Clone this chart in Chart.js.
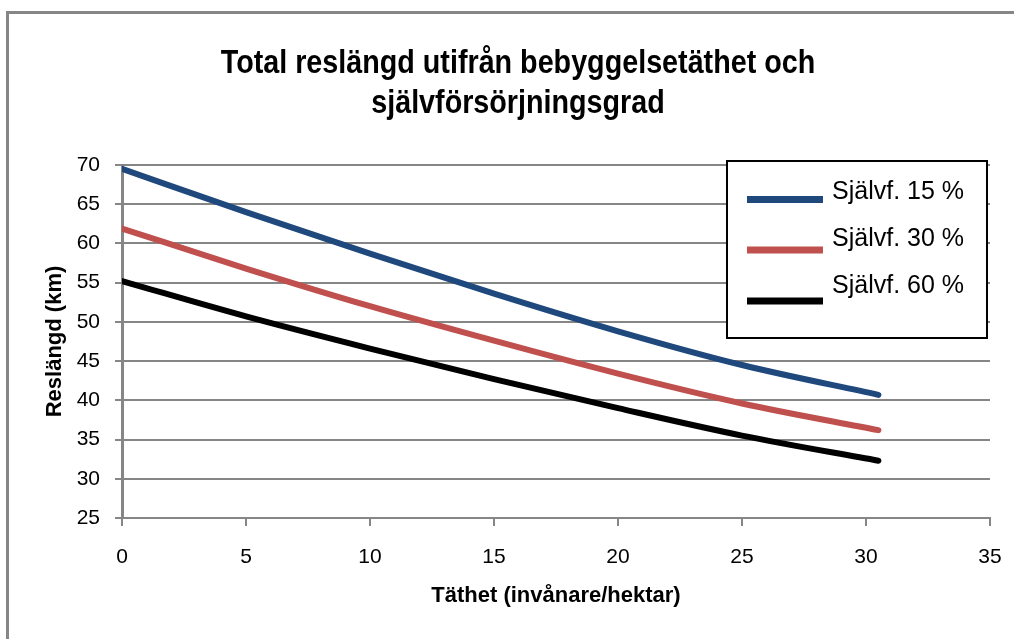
<!DOCTYPE html>
<html>
<head>
<meta charset="utf-8">
<script src="https://cdn.jsdelivr.net/npm/chart.js@4/dist/chart.umd.min.js"></script>
<style>
  html, body { margin: 0; padding: 0; background: #fff; }
  #wrap { position: relative; width: 1014px; height: 639px; overflow: hidden; }
  #frame { position: absolute; left: 6px; top: 11px; width: 1100px; height: 700px;
           border-left: 3px solid #868686; border-top: 3px solid #868686; }
  #myChart { position: absolute; left: 0; top: 0; }
</style>
</head>
<body>
<div id="wrap">
  <div id="frame"></div>
  <canvas id="myChart" width="1014" height="639"></canvas>
</div>
<script>
// values
const density = [0, 5, 10, 15, 20, 25, 30.5]
const self15 = [69.5, 64.0, 58.7, 53.6, 48.8, 44.5, 40.7]
const self30 = [61.9, 56.8, 52.0, 47.6, 43.4, 39.6, 36.2]
const self60 = [55.2, 50.7, 46.6, 42.7, 39.0, 35.5, 32.3]
const seriesNames = ['Självf. 15 %', 'Självf. 30 %', 'Självf. 60 %']
const titleLines = ['Total reslängd utifrån bebyggelsetäthet och', 'självförsörjningsgrad']
const xTitle = 'Täthet (invånare/hektar)'
const yTitle = 'Reslängd (km)'

const colors = ['#1F497D', '#C0504D', '#000000']

const toPoints = arr => arr.map((v, i) => ({ x: density[i], y: v }))

// title drawn a bit condensed, like the narrow font of the original
const titlePlugin = {
  id: 'bigTitle',
  afterDraw(chart) {
    const ctx = chart.ctx
    ctx.save()
    ctx.font = 'bold 33px "Liberation Sans"'
    ctx.fillStyle = '#000'
    ctx.textAlign = 'center'
    ctx.textBaseline = 'alphabetic'
    ctx.translate(518, 0)
    ctx.scale(0.87, 1)
    titleLines.forEach((t, i) => ctx.fillText(t, 0, 73 + i * 40))
    ctx.restore()
  }
}

// legend box like the original (text sits a bit above the line sample)
const boxLegend = {
  id: 'boxLegend',
  afterDraw(chart) {
    const ctx = chart.ctx
    ctx.save()
    ctx.fillStyle = '#fff'
    ctx.fillRect(727, 161, 260, 177)
    ctx.strokeStyle = '#000'
    ctx.lineWidth = 2
    ctx.strokeRect(727, 161, 260, 177)
    const lineY = [199.5, 250, 301]
    const textY = [199, 246, 293]
    ctx.font = '25px "Liberation Sans"'
    ctx.textAlign = 'left'
    ctx.textBaseline = 'alphabetic'
    chart.data.datasets.forEach((ds, i) => {
      ctx.strokeStyle = ds.borderColor
      ctx.lineWidth = 7
      ctx.lineCap = 'butt'
      ctx.beginPath()
      ctx.moveTo(747, lineY[i])
      ctx.lineTo(823, lineY[i])
      ctx.stroke()
      ctx.fillStyle = '#000'
      ctx.fillText(ds.label, 832, textY[i])
    })
    ctx.restore()
  }
}

const show = document.getElementById('myChart').getContext('2d')
const myChart = new Chart(show, {
  type: 'line',
  data: {
    datasets: [self15, self30, self60].map((arr, i) => ({
      label: seriesNames[i],
      data: toPoints(arr),
      borderColor: colors[i],
      backgroundColor: colors[i],
      borderWidth: 6,
      borderCapStyle: 'round',
      pointRadius: 0,
      tension: 0.3,
      cubicInterpolationMode: 'monotone',
      fill: false,
    }))
  },
  options: {
    responsive: false,
    animation: false,
    layout: { padding: { top: 165, right: 24, bottom: 0, left: 0 } },
    plugins: {
      legend: { display: false },
      title: { display: false },
      tooltip: { enabled: false },
    },
    scales: {
      x: {
        type: 'linear',
        min: 0,
        max: 35,
        ticks: { stepSize: 5, color: '#000', padding: 19, font: { family: 'Liberation Sans', size: 21 } },
        grid: { drawOnChartArea: false, drawTicks: true, tickLength: 8, color: '#868686', lineWidth: 2 },
        border: { color: '#868686', width: 2 },
        title: { display: true, text: xTitle, color: '#000', padding: { top: 0, bottom: 30 },
                 font: { family: 'Liberation Sans', size: 22, weight: 'bold' } },
        afterFit(scale) {
          scale.height = 121
          scale.paddingRight = 0
          scale.paddingLeft = 0
        },
      },
      y: {
        min: 25,
        max: 70,
        ticks: { stepSize: 5, color: '#000', padding: 15, font: { family: 'Liberation Sans', size: 21 } },
        grid: { color: '#868686', lineWidth: 2, tickLength: 7 },
        border: { color: '#868686', width: 3 },
        title: { display: true, text: yTitle, color: '#000', padding: { top: 42, bottom: 0 },
                 font: { family: 'Liberation Sans', size: 22, weight: 'bold' } },
        afterFit(scale) { scale.width = 122 },
      }
    }
  },
  plugins: [titlePlugin, boxLegend]
})
</script>
</body>
</html>
